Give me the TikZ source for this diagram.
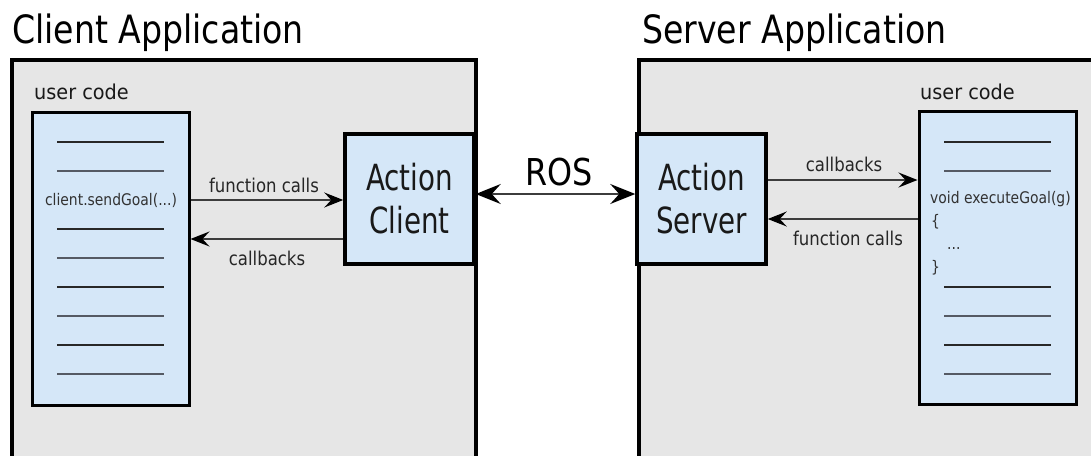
\documentclass[tikz,border=0pt]{standalone}
\usepackage{fontspec}
\usepackage{graphicx}
\setmainfont{DejaVu Sans}
\usetikzlibrary{arrows.meta}

\definecolor{appgray}{RGB}{230,230,230}
\definecolor{codeblue}{RGB}{213,231,248}
\definecolor{wire}{RGB}{60,60,60}
\definecolor{ruleA}{RGB}{40,40,40}
\definecolor{ruleB}{RGB}{85,90,100}
\definecolor{codetext}{RGB}{50,50,50}

% horizontally condensed text
\newcommand\hsq[2]{\scalebox{#1}[1]{#2}}

\tikzset{
  appbox/.style={draw=black, line width=4pt, fill=appgray, rectangle, inner sep=0pt, anchor=north west},
  actbox/.style={draw=black, line width=3.5pt, fill=codeblue, rectangle, inner sep=0pt,
                 minimum width=129pt, minimum height=130pt, align=center,
                 font=\fontsize{36}{43}\selectfont, text=black!90},
  codebox/.style={draw=black, line width=3pt, fill=codeblue, rectangle, inner sep=0pt,
                  minimum width=157pt, minimum height=293pt},
  apptitle/.style={anchor=base west, inner sep=0pt, font=\fontsize{39}{44}\selectfont},
  usertitle/.style={anchor=base west, inner sep=0pt, font=\fontsize{20.5}{24}\selectfont, text=black!90},
  wirelabel/.style={anchor=base, inner sep=0pt, font=\fontsize{19}{22}\selectfont, text=black!85},
  codeline/.style={anchor=base west, inner sep=0pt, font=\fontsize{16}{18}\selectfont, text=codetext},
  darkrule/.style={draw=ruleA, line width=1.6pt},
  lightrule/.style={draw=ruleB, line width=1.8pt},
  arr/.style={draw=wire, line width=1.6pt, -{Stealth[length=19pt,width=15pt,inset=7pt,color=black]}},
  rosarr/.style={draw=wire, line width=2pt,
    {Stealth[length=25pt,width=20pt,inset=9pt,color=black]}-{Stealth[length=25pt,width=20pt,inset=9pt,color=black]}}
}

\begin{document}
\begin{tikzpicture}[x=1pt, y=-1pt]
\useasboundingbox (0,0) rectangle (1091,455);
\fill[white] (0,0) rectangle (1091,455);

% application frames
\node[appbox, minimum width=464.5pt, minimum height=399pt] (clientapp) at (9.5,57.5) {};
\node[appbox, minimum width=480pt, minimum height=399pt] (serverapp) at (637,57.5) {};
\node[apptitle] (clienttitle) at (12,43) {\hsq{0.85}{Client Application}};
\node[apptitle] (servertitle) at (642,43) {\hsq{0.85}{Server Application}};

% user code listings
\node[usertitle] (ucLtitle) at (34,99) {\hsq{0.94}{user code}};
\node[usertitle] (ucRtitle) at (920,99) {\hsq{0.94}{user code}};
\node[codebox] (ucL) at (110.5,258.5) {};
\node[codebox] (ucR) at (997.5,258) {};

% client listing rows
\foreach \y/\s in {142/darkrule,171/lightrule,229/darkrule,258/lightrule,287/darkrule,316/lightrule,345/darkrule,374/lightrule}
  \draw[\s] (57,\y) -- (164,\y);
\node[codeline, anchor=base] (sendgoal) at (111,205) {\hsq{0.87}{client.sendGoal(...)}};

% server listing rows
\foreach \y/\s in {142/darkrule,171/lightrule,287/darkrule,316/lightrule,345/darkrule,374/lightrule}
  \draw[\s] (944,\y) -- (1051,\y);
\node[codeline] (exec1) at (930,203) {\hsq{0.87}{void executeGoal(g)}};
\node[codeline] (exec2) at (931,226) {\hsq{0.87}{\{}};
\node[codeline] (exec3) at (947,249) {\hsq{0.87}{...}};
\node[codeline] (exec4) at (931,272) {\hsq{0.87}{\}}};

% action client / server
\node[actbox] (ac) at (409.5,199) {\hsq{0.77}{Action}\\\hsq{0.77}{Client}};
\node[actbox] (as) at (701.5,199) {\hsq{0.77}{Action}\\\hsq{0.77}{Server}};

% client side wires
\draw[arr] ([yshift=58.5pt]ucL.east) -- ([yshift=-1pt]ac.west);
\draw[arr] ([yshift=-40pt]ac.west) -- ([yshift=19.5pt]ucL.east);
\node[wirelabel] (lfc) at (264,192) {\hsq{0.87}{function calls}};
\node[wirelabel] (lcb) at (267,265) {\hsq{0.87}{callbacks}};

% server side wires
\draw[arr] ([yshift=19pt]as.east) -- ([yshift=78pt]ucR.west);
\draw[arr] ([yshift=39pt]ucR.west) -- ([yshift=-20pt]as.east);
\node[wirelabel] (rcb) at (844,171) {\hsq{0.87}{callbacks}};
\node[wirelabel] (rfc) at (848,245) {\hsq{0.87}{function calls}};

% ROS link
\draw[rosarr] ([yshift=5pt]ac.east) -- ([yshift=5pt]as.west);
\node[anchor=base, inner sep=0pt, font=\fontsize{37}{42}\selectfont] (ros) at (559,185) {\hsq{0.86}{ROS}};
\end{tikzpicture}
\end{document}
